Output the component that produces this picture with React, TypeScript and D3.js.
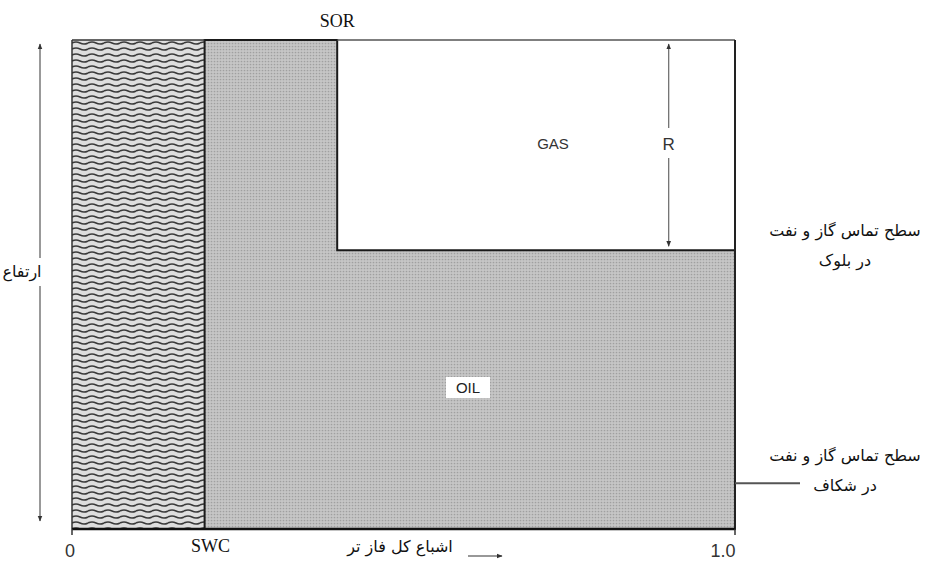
// @ts-nocheck
import * as d3 from "d3"
import * as React from "react"

// saturation boundaries (fraction of pore volume): 0, Swc, oil/gas step (1 - Sor side), 1.0
const satBounds = [0, 0.2, 0.4, 1.0]
const satTicks = [{ v: 0, label: "0" }, { v: 1.0, label: "1.0" }]
// contact heights (fraction of block height): GOC in block, GOC in fracture
const contactLevels = [0.57, 0.11]
const zoneLabels = ["GAS", "OIL"]
const contactText = [
  ["سطح تماس گاز و نفت", "در بلوک"],
  ["سطح تماس گاز و نفت", "در شکاف"],
]

const W = 941
const H = 566
const x = d3.scaleLinear().domain([0, 1]).range([72, 735])
const y = d3.scaleLinear().domain([0, 1]).range([529, 40])

const serif = "'Liberation Serif', 'Times New Roman', serif"
const sans = "'Liberation Sans', Arial, sans-serif"
const persian = "'DejaVu Sans', sans-serif"

export default function App() {
  const [s0, swc, sStep, s1] = satBounds
  const [gocBlock, gocFrac] = contactLevels
  const rx = x(0.9)

  const oilPath = d3.path()
  oilPath.moveTo(x(swc), y(1))
  oilPath.lineTo(x(sStep), y(1))
  oilPath.lineTo(x(sStep), y(gocBlock))
  oilPath.lineTo(x(s1), y(gocBlock))
  oilPath.lineTo(x(s1), y(0))
  oilPath.lineTo(x(swc), y(0))
  oilPath.closePath()

  const serifStyle = { fontFamily: serif, fontSize: 18 }
  const faStyle = { fontFamily: persian, fontSize: 16 }
  const sansStyle = { fontFamily: sans }

  return (
    <div style={{ position: "absolute", left: 0, top: 0 }}>
      <svg width={W} height={H} style={{ display: "block", background: "#fff" }}>
        <defs>
          <pattern id="wave" width={16} height={6} patternUnits="userSpaceOnUse" x={x(0)} y={y(1)}>
            <rect width={16} height={6} fill="#dedede" />
            <path d="M0 3 Q4 1 8 3 T16 3" fill="none" stroke="#3a3a3a" strokeWidth={1.6} />
          </pattern>
          <pattern id="dots" width={3} height={3} patternUnits="userSpaceOnUse">
            <rect width={3} height={3} fill="#c6c6c6" />
            <circle cx={1.5} cy={1.5} r={0.85} fill="#a0a0a0" />
          </pattern>
          <marker id="ah" viewBox="0 0 10 10" refX={9} refY={5} markerWidth={5} markerHeight={6} orient="auto-start-reverse">
            <path d="M0 1 L10 5 L0 9 Z" fill="#333" />
          </marker>
        </defs>

        {/* water (connate) */}
        <rect x={x(s0)} y={y(1)} width={x(swc) - x(s0)} height={y(0) - y(1)} fill="url(#wave)" />
        {/* oil */}
        <path d={oilPath.toString()} fill="url(#dots)" stroke="#1a1a1a" strokeWidth={2} />
        {/* gas box outline */}
        <line x1={x(sStep)} x2={x(s1)} y1={y(1)} y2={y(1)} stroke="#555" strokeWidth={1.5} />
        <line x1={x(s1)} x2={x(s1)} y1={y(1)} y2={y(0)} stroke="#222" strokeWidth={2} />
        <line x1={x(s0)} x2={x(swc)} y1={y(1)} y2={y(1)} stroke="#333" strokeWidth={1.5} />
        <line x1={x(s0)} x2={x(s0)} y1={y(1)} y2={y(0)} stroke="#333" strokeWidth={1.5} />
        <line x1={x(s0)} x2={x(s1)} y1={y(0)} y2={y(0)} stroke="#111" strokeWidth={2.5} />

        {/* ticks */}
        {satTicks.map(t => (
          <g key={t.label}>
            <line x1={x(t.v)} x2={x(t.v)} y1={y(0)} y2={y(0) + 6} stroke="#333" strokeWidth={1.5} />
            <text x={x(t.v) - (t.v === 0 ? 2 : 12)} y={557} style={sansStyle} fontSize={18} fill="#333" textAnchor="middle">{t.label}</text>
          </g>
        ))}
        <text x={x(swc) + 6} y={552} style={serifStyle} fill="#111" textAnchor="middle">SWC</text>
        <text x={x(sStep)} y={27} style={serifStyle} fill="#111" textAnchor="middle">SOR</text>

        {/* x axis title + arrow */}
        <text x={400} y={552} style={faStyle} fill="#111" textAnchor="middle" direction="rtl">اشباع کل فاز تر</text>
        <line x1={468} x2={502} y1={556} y2={556} stroke="#333" strokeWidth={1.2} markerEnd="url(#ah)" />

        {/* height arrow */}
        <line x1={40} x2={40} y1={y(1) + 4} y2={y(0) - 8} stroke="#555" strokeWidth={1.2} markerStart="url(#ah)" markerEnd="url(#ah)" />
        <rect x={4} y={258} width={38} height={28} fill="#fff" />
        <text x={22} y={277} style={faStyle} fill="#111" textAnchor="middle" direction="rtl">ارتفاع</text>

        {/* R arrow */}
        <line x1={rx} x2={rx} y1={y(1) + 4} y2={y(gocBlock) - 4} stroke="#666" strokeWidth={1.2} markerStart="url(#ah)" markerEnd="url(#ah)" />
        <rect x={rx - 9} y={128} width={18} height={30} fill="#fff" />
        <text x={rx} y={150} style={sansStyle} fontSize={17} fill="#333" textAnchor="middle">R</text>

        {/* zone labels */}
        <text x={553} y={149} style={sansStyle} fontSize={15} fill="#333" textAnchor="middle">{zoneLabels[0]}</text>
        <rect x={446} y={377} width={44} height={21} fill="#fff" />
        <text x={468} y={393} style={sansStyle} fontSize={15} fill="#222" textAnchor="middle">{zoneLabels[1]}</text>

        {/* fracture GOC line */}
        <line x1={x(s1)} x2={800} y1={y(gocFrac) + 8} y2={y(gocFrac) + 8} stroke="#555" strokeWidth={2} />

        {/* contact labels */}
        {[gocBlock, gocFrac].map((lv, i) => (
          <text key={i} x={845} style={faStyle} fill="#111" textAnchor="middle" direction="rtl">
            <tspan x={845} y={y(lv) - 14}>{contactText[i][0]}</tspan>
            <tspan x={845} y={y(lv) + 16}>{contactText[i][1]}</tspan>
          </text>
        ))}
      </svg>
    </div>
  )
}
